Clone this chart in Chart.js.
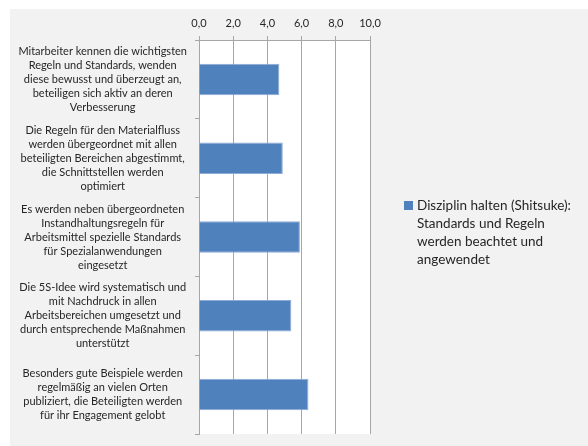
<!DOCTYPE html>
<html>
<head>
<meta charset="utf-8">
<script src="https://cdn.jsdelivr.net/npm/chart.js@4"></script>
<style>
  html, body { margin: 0; padding: 0; background: #ffffff; }
  #wrap { position: absolute; left: 10px; top: 9px; width: 578px; height: 437px; background: #f2f2f2; }
  canvas { display: block; }
</style>
</head>
<body>
<div id="wrap"><canvas id="c" width="578" height="437"></canvas></div>
<script>
const categories = [
  ['Mitarbeiter kennen die wichtigsten', 'Regeln und Standards, wenden', 'diese bewusst und überzeugt an,', 'beteiligen sich aktiv an deren', 'Verbesserung'],
  ['Die Regeln für den Materialfluss', 'werden übergeordnet mit allen', 'beteiligten Bereichen abgestimmt,', 'die Schnittstellen werden', 'optimiert'],
  ['Es werden neben übergeordneten', 'Instandhaltungsregeln für', 'Arbeitsmittel spezielle Standards', 'für Spezialanwendungen', 'eingesetzt'],
  ['Die 5S-Idee wird systematisch und', 'mit Nachdruck in allen', 'Arbeitsbereichen umgesetzt und', 'durch entsprechende Maßnahmen', 'unterstützt'],
  ['Besonders gute Beispiele werden', 'regelmäßig an vielen Orten', 'publiziert, die Beteiligten werden', 'für ihr Engagement gelobt']
];
const values = [4.7, 4.9, 5.9, 5.4, 6.4];
const seriesLabel = ['Disziplin halten (Shitsuke):', 'Standards und Regeln', 'werden beachtet und', 'angewendet'];
const xMin = 0, xMax = 10, xStep = 2;

const FONT = 'Lato, "Open Sans", sans-serif';
const TEXT = '#262626';
const GRID = '#a6a6a6';
const BAR = '#4f81bd';

const plotBg = {
  id: 'plotBg',
  beforeDraw(chart) {
    const a = chart.chartArea, ctx = chart.ctx;
    ctx.save();
    ctx.fillStyle = '#ffffff';
    ctx.fillRect(a.left, a.top, a.right - a.left, a.bottom - a.top);
    ctx.restore();
  }
};

const customLegend = {
  id: 'customLegend',
  afterDraw(chart) {
    const ctx = chart.ctx;
    const ds = chart.data.datasets[0];
    ctx.save();
    ctx.fillStyle = ds.backgroundColor;
    ctx.fillRect(394, 192, 9, 9);
    ctx.fillStyle = TEXT;
    ctx.font = '13.5px ' + FONT;
    ctx.textAlign = 'left';
    ctx.textBaseline = 'middle';
    ds.label.forEach((line, i) => ctx.fillText(line, 407, 197 + i * 18));
    ctx.restore();
  }
};

new Chart(document.getElementById('c'), {
  type: 'bar',
  data: {
    labels: categories,
    datasets: [{
      label: seriesLabel,
      data: values,
      backgroundColor: BAR,
      borderColor: '#8eaad6',
      borderWidth: 1,
      categoryPercentage: 1,
      barPercentage: 0.4
    }]
  },
  options: {
    indexAxis: 'y',
    responsive: false,
    animation: false,
    layout: { autoPadding: false, padding: { left: 0, top: 0, right: 218, bottom: 12 } },
    plugins: { legend: { display: false }, tooltip: { enabled: false } },
    scales: {
      x: {
        position: 'top',
        min: xMin, max: xMax,
        ticks: {
          stepSize: xStep,
          color: TEXT,
          font: { family: FONT, size: 11 },
          padding: 6,
          callback: v => v.toFixed(1).replace('.', ',')
        },
        grid: { color: GRID, tickLength: 4, lineWidth: 1 },
        border: { color: GRID },
        afterFit(s) { s.height = 31; s.paddingLeft = 0; s.paddingRight = 0; }
      },
      y: {
        ticks: {
          color: TEXT,
          crossAlign: 'center',
          padding: 8,
          font: { family: FONT, size: 11, lineHeight: '14px' }
        },
        grid: { drawOnChartArea: false, color: GRID, tickLength: 4, offset: true },
        border: { color: GRID },
        afterFit(s) { s.width = 189; s.paddingTop = 0; s.paddingBottom = 0; }
      }
    }
  },
  plugins: [plotBg, customLegend]
});
</script>
</body>
</html>
